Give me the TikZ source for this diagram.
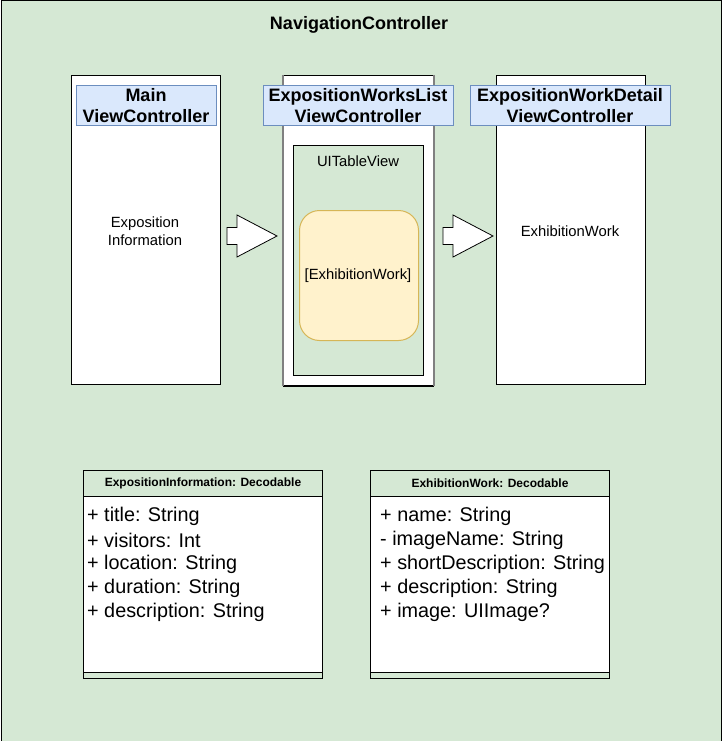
\documentclass[tikz,border=0pt]{standalone}
\usepackage{fontspec}
\setmainfont{Liberation Sans}
\definecolor{bggreen}{HTML}{D5E8D4}
\definecolor{hdrblue}{HTML}{DAE8FC}
\definecolor{hdrborder}{HTML}{6C8EBF}
\definecolor{itemfill}{HTML}{FFF2CC}
\definecolor{itemborder}{HTML}{D6B656}
\begin{document}
\begin{tikzpicture}[x=1pt,y=-1pt,
  frame/.style={draw=black, fill=bggreen, line width=1pt, rectangle, inner sep=0pt, anchor=north west},
  vcbox/.style={draw=black, fill=white, line width=1pt, rectangle, inner sep=0pt, anchor=north west},
  vchdr/.style={draw=hdrborder, fill=hdrblue, line width=1pt, rectangle, inner sep=0pt, minimum height=40pt, align=center, font=\fontsize{18}{21}\selectfont\bfseries},
  plain/.style={inner sep=0pt, align=center, font=\fontsize{14.8}{18}\selectfont},
  tablebox/.style={draw=black, fill=bggreen, line width=1pt, rectangle, inner sep=0pt, anchor=north west},
  itembox/.style={draw=itemborder, fill=itemfill, line width=1pt, rectangle, rounded corners=20pt, inner sep=0pt, anchor=north west},
  blockarrow/.style={draw=black, fill=white, line width=0.8pt},
  umlhdr/.style={draw=black, fill=bggreen, line width=1pt, rectangle, inner sep=0pt, anchor=north west, minimum width=239pt, minimum height=26pt, font=\fontsize{12}{14}\selectfont\bfseries},
  umlbody/.style={draw=black, fill=white, line width=1pt, rectangle, inner sep=0pt, anchor=north west, minimum width=239pt, minimum height=176pt},
  umlfoot/.style={draw=black, fill=bggreen, line width=1pt, rectangle, inner sep=0pt, anchor=north west, minimum width=239pt, minimum height=6pt},
  attr/.style={inner sep=0pt, anchor=west, font=\fontsize{19.8}{22}\selectfont}
]
\useasboundingbox (0,0) rectangle (721,741);
\node[frame, minimum width=720pt, minimum height=740pt] (outer) at (0.5,0.5) {};
\node[font=\fontsize{18}{20}\selectfont\bfseries, inner sep=0pt] (title) at (359,25) {NavigationController};

% Main view controller
\node[vcbox, minimum width=149pt, minimum height=309pt] (mainvc) at (71,75) {};
\node[vchdr, minimum width=140pt] (mainhdr) at (146,106) {Main\\ViewController};
\node[plain] (maintext) at (145,231) {Exposition\\Information};

% List view controller
\node[vcbox, minimum width=150pt, minimum height=310pt] (listvc) at (283,75) {};
\draw[gray, line width=2pt] (listvc.north west) -- (listvc.south west);
\draw[gray, line width=2pt] (listvc.north east) -- (listvc.south east);
\draw[black, line width=1pt] (listvc.south west) -- (listvc.south east);
\node[vchdr, minimum width=190pt] (listhdr) at (358,106) {ExpositionWorksList\\ViewController};
\node[tablebox, minimum width=130pt, minimum height=230pt] (table) at (293,145) {};
\node[plain] (tablelbl) at (358,161) {UITableView};
\node[itembox, minimum width=119pt, minimum height=130pt] (item) at (299,210) {};
\node[plain] (itemlbl) at (358,276) {[ExhibitionWork]};

% Detail view controller
\node[vcbox, minimum width=149pt, minimum height=309pt] (detvc) at (496,75) {};
\node[vchdr, minimum width=200pt] (dethdr) at (570,106) {ExpositionWorkDetail\\ViewController};
\node[plain] (dettext) at (570,231) {ExhibitionWork};

% Block arrows
\coordinate (arrA) at (227,236);
\coordinate (arrB) at (443,236);
\begin{scope}[shift={(arrA)}]
\draw[blockarrow] (0,-8.5) -- (10,-8.5) -- (10,-21) -- (50,0) -- (10,21) -- (10,8.5) -- (0,8.5) -- cycle;
\end{scope}
\begin{scope}[shift={(arrB)}]
\draw[blockarrow] (0,-8.5) -- (10,-8.5) -- (10,-21) -- (50,0) -- (10,21) -- (10,8.5) -- (0,8.5) -- cycle;
\end{scope}

% UML classes
\node[umlhdr] (c1hdr) at (83,470) {ExpositionInformation: Decodable};
\node[umlbody] (c1body) at (83,496) {};
\node[umlfoot] (c1foot) at (83,672) {};
\node[attr] (c1a) at (87,516) {+ title: String};
\node[attr] (c1b) at (87,540) {+ visitors: Int};
\node[attr] (c1c) at (87,564) {+ location: String};
\node[attr] (c1d) at (87,588) {+ duration: String};
\node[attr] (c1e) at (87,612) {+ description: String};

\node[umlhdr] (c2hdr) at (370,470) {ExhibitionWork: Decodable};
\node[umlbody] (c2body) at (370,496) {};
\node[umlfoot] (c2foot) at (370,672) {};
\node[attr] (c2a) at (380,516) {+ name: String};
\node[attr] (c2b) at (380,540) {- imageName: String};
\node[attr] (c2c) at (380,564) {+ shortDescription: String};
\node[attr] (c2d) at (380,588) {+ description: String};
\node[attr] (c2e) at (380,612) {+ image: UIImage?};
\end{tikzpicture}
\end{document}
